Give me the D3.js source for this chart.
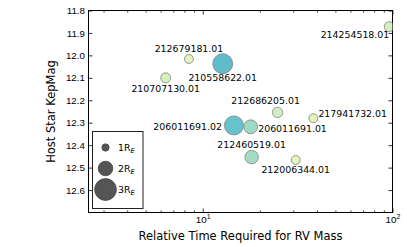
<!DOCTYPE html>
<html>
<head>
<meta charset="utf-8">
<script src="https://cdn.jsdelivr.net/npm/d3@7"></script>
<style>
    body { margin: 0; background: #fff; }
    svg { font-family: "DejaVu Sans", sans-serif; }
</style>
</head>
<body>
<div id="chart"></div>
<script>
// planet candidates
var names = ["212679181.01", "210558622.01", "210707130.01", "206011691.02", "206011691.01",
             "212460519.01", "212686205.01", "217941732.01", "214254518.01", "212006344.01"];
var relTime = [8.46, 12.74, 6.38, 14.6, 17.9, 18.1, 24.8, 38.3, 96.1, 30.9];
var kepMag = [12.016, 12.037, 12.10, 12.312, 12.318, 12.453, 12.254, 12.28, 11.872, 12.466];
var radius = [1.23, 2.74, 1.37, 2.62, 1.9, 1.85, 1.42, 1.23, 1.37, 1.23];

var yTicks = [11.8, 11.9, 12.0, 12.1, 12.2, 12.3, 12.4, 12.5, 12.6];
var legendSizes = [1, 2, 3];

// label placement around each point: dx, dy, anchor
var labelPos = [
    [0, -10, "middle"], [0, 14, "middle"], [0, 11, "middle"], [-12, 1, "end"], [7.5, 1.5, "start"],
    [0, -12, "middle"], [-12, -12, "middle"], [5, -5, "start"], [0, 8, "end"], [0, 10, "middle"]
];

var margin = {top: 10.5, right: 14.5, bottom: 34.5, left: 88.5},
    width = 407 - margin.left - margin.right,
    height = 247 - margin.top - margin.bottom;

var svg = d3.select("#chart")
    .append("svg")
    .attr("width", 407)
    .attr("height", 247)
    .append("g")
    .attr("transform", "translate(" + margin.left + "," + margin.top + ")");

var xScale = d3.scaleLog().domain([2.5, 100]).range([0, width]);
var yScale = d3.scaleLinear().domain([11.8, 12.7]).range([0, height]);
var rScale = d3.scaleLinear().domain([0, 3]).range([0, 10.9]);
var color = d3.scaleSequentialLog(d3.interpolateYlGnBu).domain([0.82, 8.9]);

var xMajor = [10, 100];
var xMinor = [];
[1, 10].forEach(function(dec) {
    for (var k = 2; k < 10; k++) {
        if (k * dec >= 2.5) xMinor.push(k * dec);
    }
});

// axes, ticks pointing inward on all four sides
function styleAxis(g) {
    g.select(".domain").remove();
    g.selectAll(".tick line").attr("stroke", "#000").attr("stroke-width", 0.8);
    g.selectAll(".tick text").attr("fill", "#000");
}

svg.append("g")
    .attr("transform", "translate(0," + height + ")")
    .call(d3.axisBottom(xScale).tickValues(xMinor).tickSize(-2).tickFormat(""))
    .call(styleAxis);

svg.append("g")
    .attr("transform", "translate(0," + height + ")")
    .call(d3.axisBottom(xScale).tickValues(xMajor).tickSize(-4).tickPadding(4))
    .call(styleAxis)
    .selectAll(".tick text")
    .attr("font-size", 9.8)
    .each(function(d) {
        var t = d3.select(this).text("");
        t.append("tspan").text("10");
        t.append("tspan").attr("dy", -4).attr("font-size", 7).text(Math.round(Math.log10(d)));
    });

svg.append("g")
    .call(d3.axisTop(xScale).tickValues(xMinor).tickSize(-2).tickFormat(""))
    .call(styleAxis);
svg.append("g")
    .call(d3.axisTop(xScale).tickValues(xMajor).tickSize(-4).tickFormat(""))
    .call(styleAxis);

svg.append("g")
    .call(d3.axisLeft(yScale).tickValues(yTicks).tickSize(-4).tickPadding(3.5).tickFormat(d3.format(".1f")))
    .call(styleAxis)
    .selectAll(".tick text")
    .attr("font-size", 9.8);

svg.append("g")
    .attr("transform", "translate(" + width + ",0)")
    .call(d3.axisRight(yScale).tickValues(yTicks).tickSize(-4).tickFormat(""))
    .call(styleAxis);

svg.append("rect")
    .attr("width", width)
    .attr("height", height)
    .attr("fill", "none")
    .attr("stroke", "#000")
    .attr("stroke-width", 1);

// axis titles
svg.append("text")
    .attr("x", width / 2)
    .attr("y", height + 27.5)
    .attr("text-anchor", "middle")
    .attr("font-size", 11.5)
    .text("Relative Time Required for RV Mass");

svg.append("text")
    .attr("transform", "translate(-34," + (height / 2) + ") rotate(-90)")
    .attr("text-anchor", "middle")
    .attr("font-size", 11.5)
    .text("Host Star KepMag");

svg.append("clipPath")
    .attr("id", "clip")
    .append("rect")
    .attr("width", width)
    .attr("height", height);

var df = names.map(function(n, i) {
    return {name: n, t: relTime[i], mag: kepMag[i], r: radius[i], lab: labelPos[i]};
});

svg.append("g")
    .attr("clip-path", "url(#clip)")
    .selectAll(".dot")
    .data(df)
    .enter()
    .append("circle")
    .attr("class", "dot")
    .attr("cx", function(d) { return xScale(d.t); })
    .attr("cy", function(d) { return yScale(d.mag); })
    .attr("r", function(d) { return rScale(d.r); })
    .style("fill", function(d) { return color(d.r); })
    .style("fill-opacity", 0.85)
    .style("stroke", "#808080")
    .style("stroke-width", 0.8);

svg.selectAll(".lbl")
    .data(df)
    .enter()
    .append("text")
    .attr("class", "lbl")
    .attr("x", function(d) { return xScale(d.t) + d.lab[0]; })
    .attr("y", function(d) { return yScale(d.mag) + d.lab[1]; })
    .attr("dy", "0.35em")
    .attr("text-anchor", function(d) { return d.lab[2]; })
    .attr("font-size", 9.4)
    .text(function(d) { return d.name; });

// size legend
var legend = svg.append("g")
    .attr("transform", "translate(4,121)");

legend.append("rect")
    .attr("width", 50.5)
    .attr("height", 77)
    .attr("fill", "#fff")
    .attr("stroke", "#222")
    .attr("stroke-width", 1);

var items = legend.selectAll(".item")
    .data(legendSizes)
    .enter()
    .append("g")
    .attr("class", "item")
    .attr("transform", function(d, i) { return "translate(13," + (16 + i * 21) + ")"; });

items.append("circle")
    .attr("r", function(d) { return rScale(d); })
    .attr("fill", "#555")
    .attr("stroke", "#444")
    .attr("stroke-width", 0.8);

var lt = items.append("text")
    .attr("x", 12.5)
    .attr("dy", "0.35em")
    .attr("font-size", 9.4);
lt.append("tspan").text(function(d) { return d + "R"; });
lt.append("tspan")
    .attr("dy", 2.5)
    .attr("font-size", 6.8)
    .attr("font-style", "italic")
    .text("E");
</script>
</body>
</html>
